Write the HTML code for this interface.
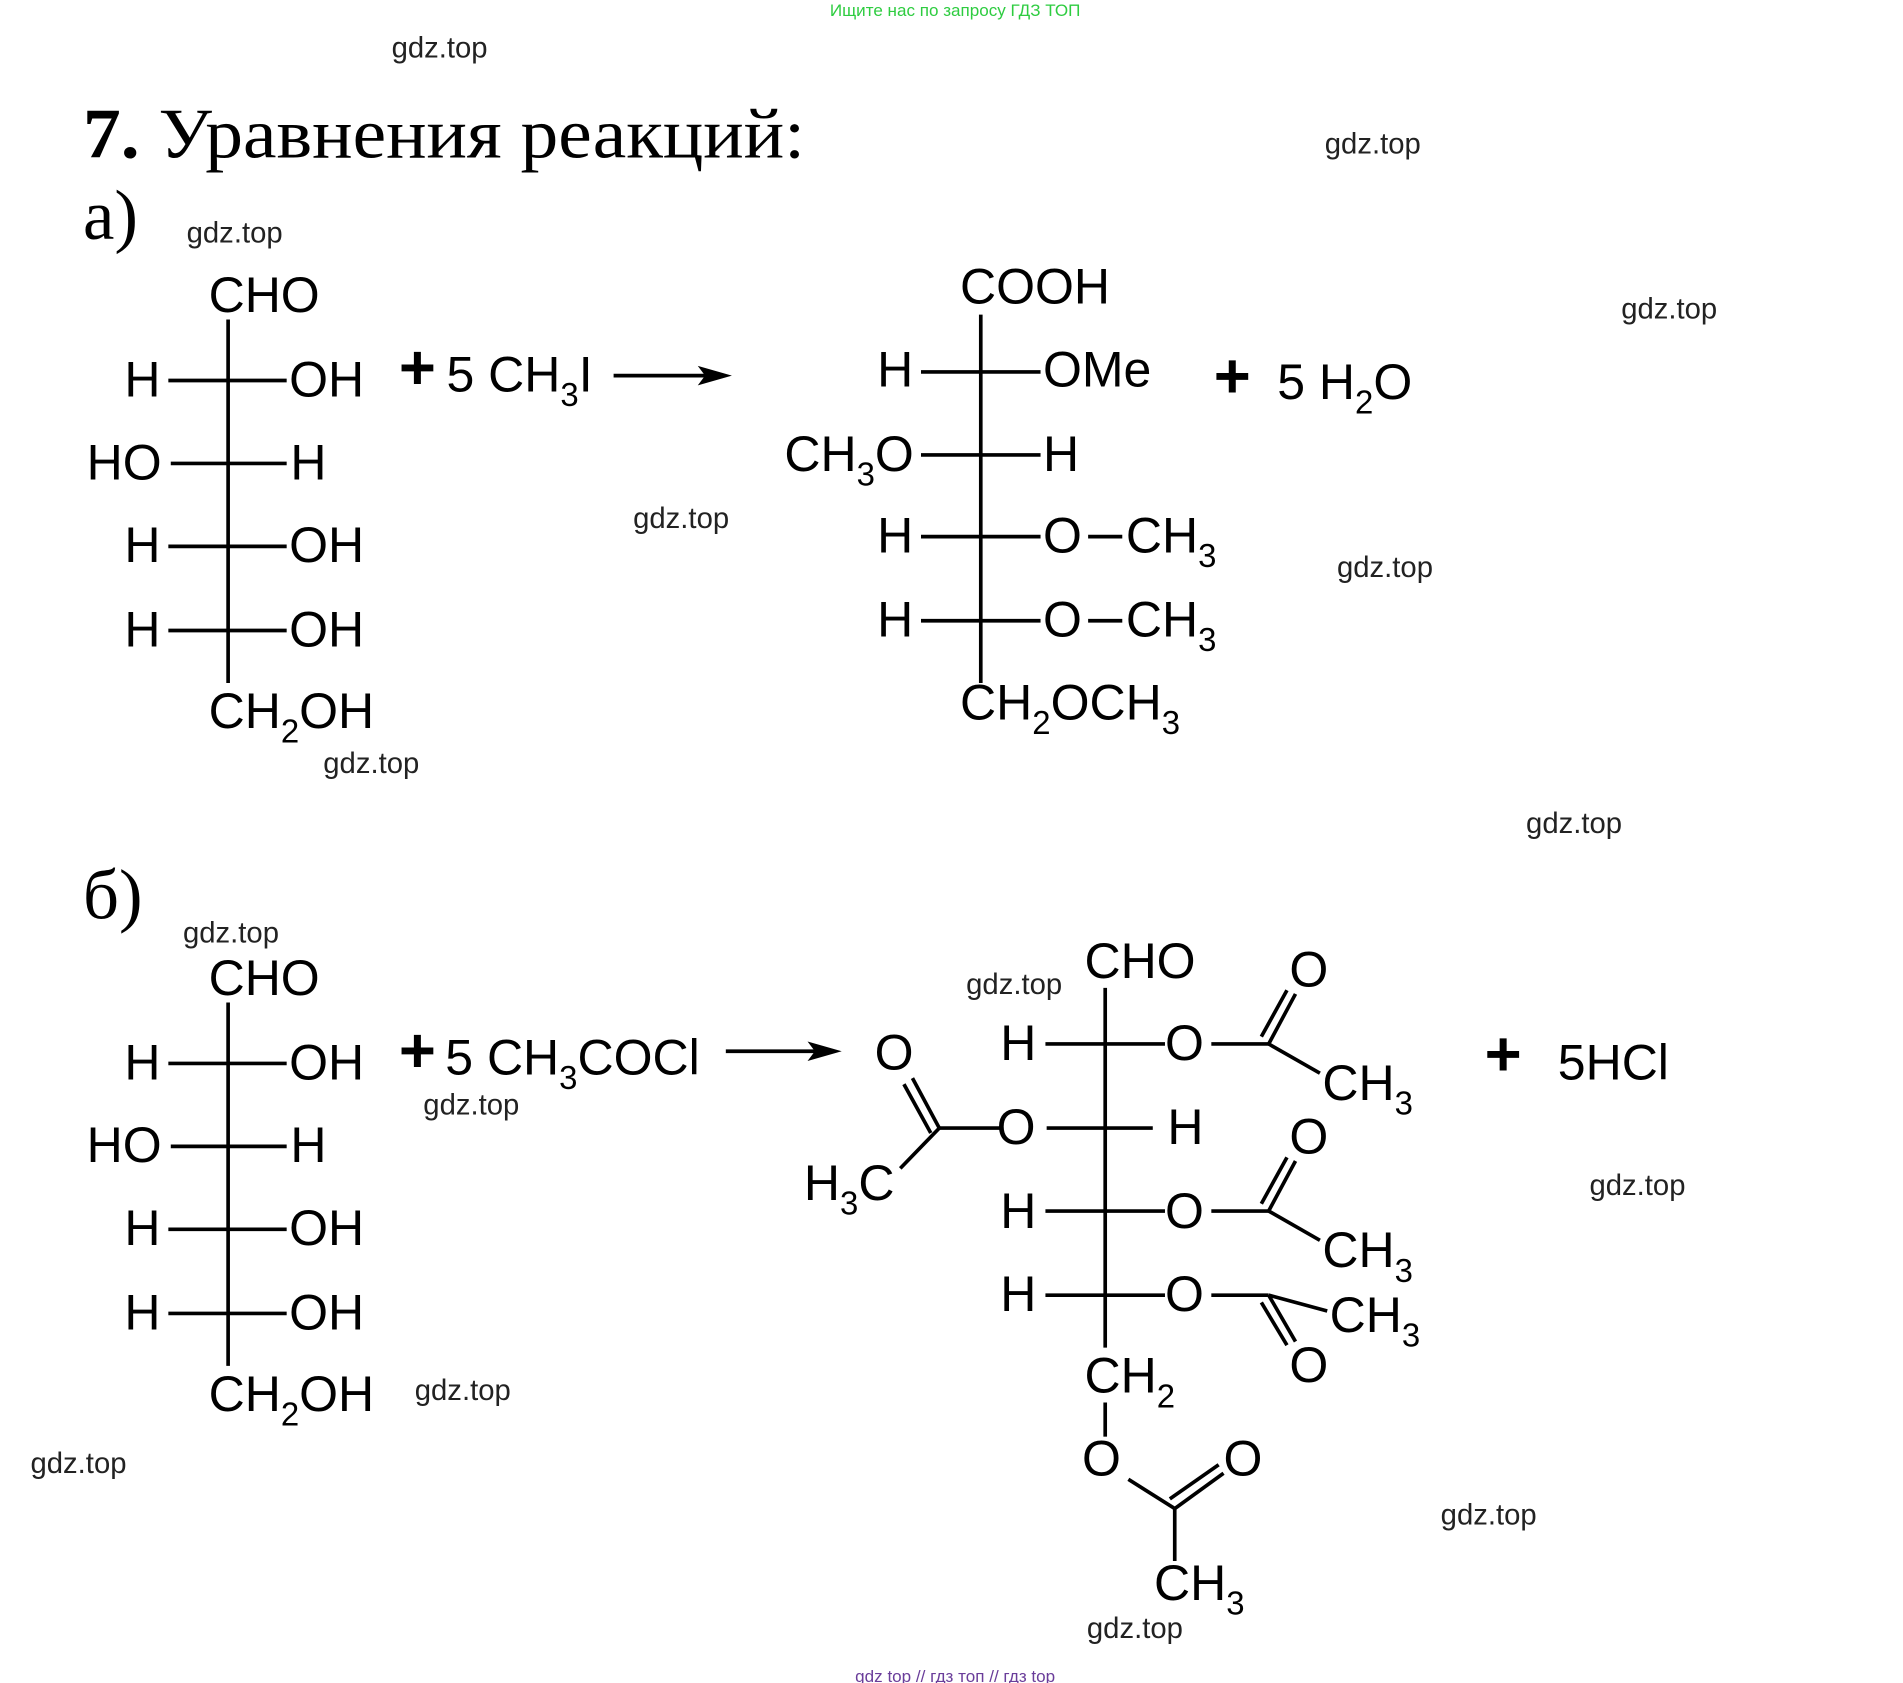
<!DOCTYPE html>
<html><head><meta charset="utf-8"><style>
html,body{margin:0;padding:0;background:#fff;}
svg{display:block;}
text{font-family:"Liberation Sans",Arial,sans-serif;fill:#000;}
.c{font-size:41px;}
.w{font-size:24px;fill:#222;}
.s{font-size:27px;}
.serif{font-family:"Liberation Serif","Noto Serif CJK SC",serif;}
</style></head><body>
<svg width="1903" height="1683" viewBox="0 0 1560 1380" preserveAspectRatio="none" xmlns="http://www.w3.org/2000/svg">
<g stroke="#000" stroke-width="3" fill="none">
<line x1="187" y1="262" x2="187" y2="560"/>
<line x1="138" y1="312" x2="235" y2="312"/>
<line x1="140" y1="380" x2="235" y2="380"/>
<line x1="138" y1="448" x2="235" y2="448"/>
<line x1="138" y1="517" x2="235" y2="517"/>
<line x1="503" y1="308" x2="585" y2="308"/>
<line x1="804" y1="258" x2="804" y2="560"/>
<line x1="755" y1="305" x2="853" y2="305"/>
<line x1="755" y1="373" x2="853" y2="373"/>
<line x1="755" y1="440" x2="853" y2="440"/>
<line x1="755" y1="509" x2="853" y2="509"/>
<line x1="892" y1="440" x2="920" y2="440"/>
<line x1="892" y1="509" x2="920" y2="509"/>
<line x1="187" y1="822" x2="187" y2="1120"/>
<line x1="138" y1="872" x2="235" y2="872"/>
<line x1="140" y1="940" x2="235" y2="940"/>
<line x1="138" y1="1008" x2="235" y2="1008"/>
<line x1="138" y1="1077" x2="235" y2="1077"/>
<line x1="595" y1="862" x2="675" y2="862"/>
<line x1="906" y1="810" x2="906" y2="1105"/>
<line x1="906" y1="1150" x2="906" y2="1178"/>
<line x1="857" y1="856" x2="955" y2="856"/>
<line x1="858" y1="925" x2="945" y2="925"/>
<line x1="857" y1="993" x2="955" y2="993"/>
<line x1="857" y1="1062" x2="955" y2="1062"/>
<line x1="993" y1="856" x2="1040" y2="856"/>
<line x1="1040" y1="856" x2="1062" y2="815"/><line x1="1034" y1="850" x2="1055" y2="812"/>
<line x1="1040" y1="856" x2="1082" y2="880"/>
<line x1="993" y1="993" x2="1040" y2="993"/>
<line x1="1040" y1="993" x2="1062" y2="952"/><line x1="1034" y1="987" x2="1055" y2="949"/>
<line x1="1040" y1="993" x2="1082" y2="1017"/>
<line x1="993" y1="1062" x2="1040" y2="1062"/>
<line x1="1040" y1="1062" x2="1062" y2="1100"/><line x1="1034" y1="1068" x2="1055" y2="1103"/>
<line x1="1040" y1="1062" x2="1088" y2="1075"/>
<line x1="820" y1="925" x2="770" y2="925"/>
<line x1="770" y1="925" x2="748" y2="884"/><line x1="763" y1="929" x2="741" y2="889"/>
<line x1="770" y1="925" x2="738" y2="958"/>
<line x1="925" y1="1213" x2="963" y2="1237"/>
<line x1="963" y1="1237" x2="1003" y2="1208"/><line x1="959" y1="1229" x2="999" y2="1201"/>
<line x1="963" y1="1237" x2="963" y2="1280"/>
</g>
<polygon points="600,308 572,300 578,308 572,316" fill="#000"/>
<polygon points="690,862 662,854 668,862 662,870" fill="#000"/>

<text x="783" y="13" text-anchor="middle" style="font-size:14px;fill:#2ecc40">Ищите нас по запросу ГДЗ ТОП</text>
<text x="783" y="1379" text-anchor="middle" style="font-size:14px;fill:#6a3d9a">gdz top  //  гдз топ  //  гдз top</text>

<text class="serif" x="68" y="129" style="font-size:58px" textLength="592" lengthAdjust="spacingAndGlyphs"><tspan font-weight="bold">7.</tspan> Уравнения реакций:</text>
<text class="serif" x="68" y="196" style="font-size:58px">а)</text>
<text class="serif" x="68" y="753" style="font-size:58px">б)</text>

<g transform="translate(-3,-3)">
<text class="w" x="324" y="50">gdz.top</text>
<text class="w" x="1089" y="129">gdz.top</text>
<text class="w" x="156" y="202">gdz.top</text>
<text class="w" x="1332" y="264">gdz.top</text>
<text class="w" x="522" y="436">gdz.top</text>
<text class="w" x="1099" y="476">gdz.top</text>
<text class="w" x="268" y="637">gdz.top</text>
<text class="w" x="1254" y="686">gdz.top</text>
<text class="w" x="153" y="776">gdz.top</text>
<text class="w" x="795" y="818">gdz.top</text>
<text class="w" x="350" y="917">gdz.top</text>
<text class="w" x="1306" y="983">gdz.top</text>
<text class="w" x="343" y="1151">gdz.top</text>
<text class="w" x="28" y="1211">gdz.top</text>
<text class="w" x="1184" y="1253">gdz.top</text>
<text class="w" x="894" y="1346">gdz.top</text>

<text class="c" x="174" y="259">CHO</text>
<text class="c" x="105" y="328">H</text><text class="c" x="240" y="328">OH</text>
<text class="c" x="74" y="396">HO</text><text class="c" x="241" y="396">H</text>
<text class="c" x="105" y="464">H</text><text class="c" x="240" y="464">OH</text>
<text class="c" x="105" y="533">H</text><text class="c" x="240" y="533">OH</text>
<text class="c" x="174" y="600">CH<tspan class="s" dy="12">2</tspan><tspan dy="-12">OH</tspan></text>
<text x="330" y="322" style="font-size:52px;font-weight:bold">+</text>
<text class="c" x="369" y="324">5 CH<tspan class="s" dy="12">3</tspan><tspan dy="-12">I</tspan></text>

<text class="c" x="790" y="252">COOH</text>
<text class="c" x="722" y="320">H</text><text class="c" x="858" y="320">OMe</text>
<text class="c" x="646" y="389">CH<tspan class="s" dy="12">3</tspan><tspan dy="-12">O</tspan></text><text class="c" x="858" y="389">H</text>
<text class="c" x="722" y="456">H</text><text class="c" x="858" y="456">O</text><text class="c" x="926" y="456">CH<tspan class="s" dy="12">3</tspan></text>
<text class="c" x="722" y="525">H</text><text class="c" x="858" y="525">O</text><text class="c" x="926" y="525">CH<tspan class="s" dy="12">3</tspan></text>
<text class="c" x="790" y="593">CH<tspan class="s" dy="12">2</tspan><tspan dy="-12">OCH</tspan><tspan class="s" dy="12">3</tspan></text>
<text x="998" y="329" style="font-size:52px;font-weight:bold">+</text>
<text class="c" x="1050" y="330">5 H<tspan class="s" dy="12">2</tspan><tspan dy="-12">O</tspan></text>

<text class="c" x="174" y="819">CHO</text>
<text class="c" x="105" y="888">H</text><text class="c" x="240" y="888">OH</text>
<text class="c" x="74" y="956">HO</text><text class="c" x="241" y="956">H</text>
<text class="c" x="105" y="1024">H</text><text class="c" x="240" y="1024">OH</text>
<text class="c" x="105" y="1093">H</text><text class="c" x="240" y="1093">OH</text>
<text class="c" x="174" y="1160">CH<tspan class="s" dy="12">2</tspan><tspan dy="-12">OH</tspan></text>
<text x="330" y="882" style="font-size:52px;font-weight:bold">+</text>
<text class="c" x="368" y="884">5 CH<tspan class="s" dy="12">3</tspan><tspan dy="-12">COCl</tspan></text>

<text class="c" x="892" y="805">CHO</text>
<text class="c" x="823" y="872">H</text><text class="c" x="958" y="872">O</text>
<text class="c" x="1060" y="812">O</text>
<text class="c" x="1087" y="905">CH<tspan class="s" dy="12">3</tspan></text>
<text class="c" x="720" y="880">O</text>
<text class="c" x="820" y="941">O</text><text class="c" x="960" y="941">H</text>
<text class="c" x="662" y="987">H<tspan class="s" dy="12">3</tspan><tspan dy="-12">C</tspan></text>
<text class="c" x="823" y="1010">H</text><text class="c" x="958" y="1010">O</text>
<text class="c" x="1060" y="949">O</text>
<text class="c" x="1087" y="1042">CH<tspan class="s" dy="12">3</tspan></text>
<text class="c" x="823" y="1078">H</text><text class="c" x="958" y="1078">O</text>
<text class="c" x="1093" y="1095">CH<tspan class="s" dy="12">3</tspan></text>
<text class="c" x="1060" y="1136">O</text>
<text class="c" x="892" y="1145">CH<tspan class="s" dy="12">2</tspan></text>
<text class="c" x="890" y="1213">O</text>
<text class="c" x="1006" y="1213">O</text>
<text class="c" x="949" y="1315">CH<tspan class="s" dy="12">3</tspan></text>
<text x="1220" y="885" style="font-size:52px;font-weight:bold">+</text>
<text class="c" x="1280" y="888">5HCl</text>
</g>
</svg>
</body></html>
